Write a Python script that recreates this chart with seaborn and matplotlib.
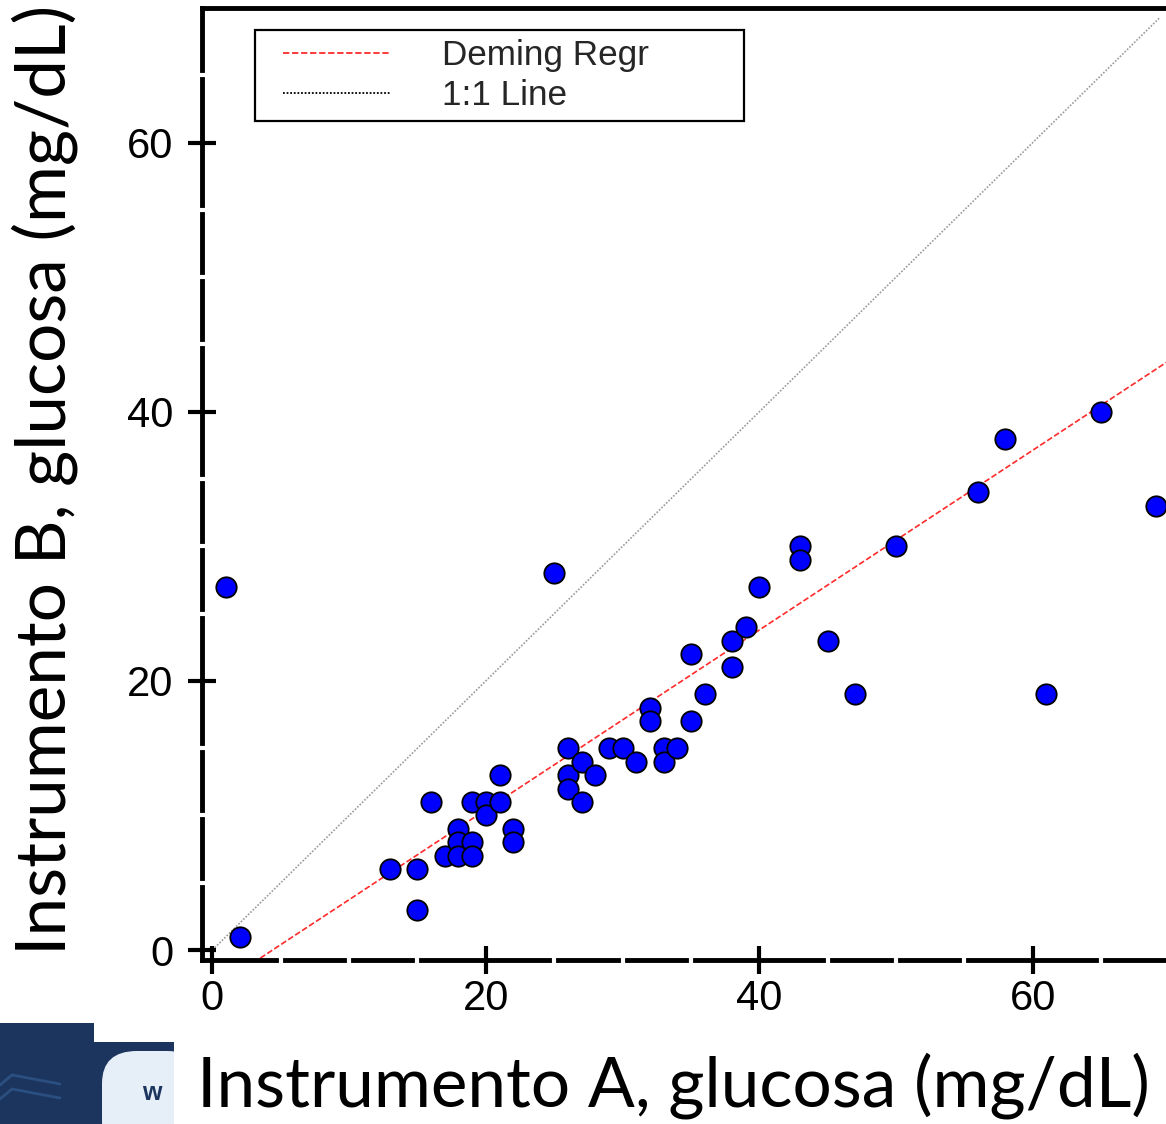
import numpy as np
import pandas as pd
import matplotlib
matplotlib.use("Agg")
import matplotlib.pyplot as plt
import seaborn as sns
from matplotlib.lines import Line2D
from matplotlib.patches import Rectangle, FancyBboxPatch
from matplotlib.legend_handler import HandlerLine2D

# ---------------- data ----------------
inst_a = [1, 2, 13, 15, 15, 16, 17, 18, 18, 18, 19, 19, 19, 20, 20, 21, 21, 22, 22,
          25, 26, 26, 26, 27, 27, 28, 29, 30, 31, 32, 32, 33, 33, 34, 35, 35, 36,
          38, 38, 39, 40, 43, 43, 45, 47, 50, 56, 58, 61, 65, 69]
inst_b = [27, 1, 6, 6, 3, 11, 7, 9, 8, 7, 11, 8, 7, 11, 10, 13, 11, 9, 8,
          28, 15, 13, 12, 14, 11, 13, 15, 15, 14, 18, 17, 15, 14, 15, 22, 17, 19,
          23, 21, 24, 27, 30, 29, 23, 19, 30, 34, 38, 19, 40, 33]
deming_slope = 0.668
deming_intercept = -2.94
deming_x = [3.0, 71.0]
identity_x = [0.0, 69.3]
x_ticks = [0, 20, 40, 60]
y_ticks = [0, 20, 40, 60]
legend_labels = ["Deming Regr", "1:1 Line"]
x_label = "Instrumento A, glucosa (mg/dL)"
y_label = "Instrumento B, glucosa (mg/dL)"

df = pd.DataFrame({"a": inst_a, "b": inst_b})

sns.set_theme(style="white")
plt.rcParams["font.family"] = ["Liberation Sans", "DejaVu Sans"]

W, H = 1166, 1124
fig = plt.figure(figsize=(W / 100, H / 100), dpi=100)
fig.patch.set_facecolor("white")

# axes: left spine x=201.7px, bottom spine y=960px, top spine y=8px, right beyond edge
left = 201.7 / W
bottom = 1 - 960 / H
top = 1 - 8 / H
right = 1169.5 / W
ax = fig.add_axes([left, bottom, right - left, top - bottom])
ax.set_facecolor("white")
ax.set_xlim(-0.78, 70)
ax.set_ylim(-0.74, 70)

# lines
dx = np.array(deming_x)
sns.lineplot(x=dx, y=deming_slope * dx + deming_intercept, ax=ax, color="#ff2a2a",
             linewidth=1.2, linestyle=(0, (3.5, 1.5)), zorder=2)
ix = np.array(identity_x)
sns.lineplot(x=ix, y=ix, ax=ax, color="#9a9a9a", linewidth=1.2,
             linestyle=(0, (1, 1)), zorder=2)

# points
sns.scatterplot(data=df, x="a", y="b", ax=ax, s=215, color="#0000ff",
                edgecolor="black", linewidth=1.3, zorder=4)

ax.set_xlabel("")
ax.set_ylabel("")

# spines
for s in ["left", "bottom", "top", "right"]:
    ax.spines[s].set_visible(True)
    ax.spines[s].set_color("black")
    ax.spines[s].set_linewidth(3.5)

ax.set_xticks(x_ticks)
ax.set_yticks(y_ticks)
minor = [v for v in range(5, 70, 5) if v not in x_ticks]
ax.set_xticks(minor, minor=True)
ax.set_yticks(minor, minor=True)
ax.tick_params(which="both", bottom=True, left=True, top=False, right=False)
ax.tick_params(which="major", direction="inout", length=20, width=3,
               color="black", labelsize=30, labelcolor="black")
ax.tick_params(axis="x", which="major", pad=3.5)
ax.tick_params(axis="y", which="major", pad=10.5)
ax.tick_params(which="minor", direction="inout", length=9, width=3, color="white")
ax.xaxis.set_zorder(3)
ax.yaxis.set_zorder(3)
for lab in ax.get_xticklabels() + ax.get_yticklabels():
    lab.set_fontfamily("Liberation Sans")
ax.grid(False)

# legend
handles = [Line2D([], [], color="#ff2a2a", lw=1.3, linestyle=(0, (3.5, 1.5))),
           Line2D([], [], color="black", lw=1.3, linestyle=(0, (1, 1)))]
leg_l, leg_r, leg_t, leg_b = 255.4, 743.7, 30, 121
leg = ax.legend(handles, legend_labels,
                bbox_to_anchor=(leg_l / W, 1 - leg_b / H, (leg_r - leg_l) / W, (leg_b - leg_t) / H),
                bbox_transform=fig.transFigure, loc="lower left", mode="expand",
                borderaxespad=0, handlelength=3.6, handletextpad=1.44,
                borderpad=0.26, labelspacing=0.2, frameon=True, fancybox=False,
                framealpha=1, edgecolor="black",
                prop={"family": "Liberation Sans", "size": 25.3},
                handler_map={Line2D: HandlerLine2D(xpad=0.52)})
leg.get_frame().set_linewidth(1.6)
leg.set_zorder(6)

# axis labels (Calibri-like), fitted to measured widths
lab_font = ["Lato", "DejaVu Sans"]
tx = fig.text((197 + 1150) / 2 / W, 1 - 1086 / H, x_label, ha="center", va="center",
              fontsize=40, family=lab_font, color="black", zorder=5)
ty = fig.text(45 / W, 1 - 480 / H, y_label, ha="center", va="center", rotation=90,
              fontsize=40, family=lab_font, color="black", zorder=5)
fig.canvas.draw()
r = fig.canvas.get_renderer()
bx = tx.get_window_extent(r)
tx.set_fontsize(40 * 953 / bx.width)
by = ty.get_window_extent(r)
ty.set_fontsize(40 * 950 / by.height)

# watermark fragment in the lower-left corner
navy = "#1c355e"
fig.patches.append(Rectangle((0, 0), 94 / W, (H - 1023) / H, transform=fig.transFigure,
                             facecolor=navy, edgecolor="none", zorder=0))
fig.patches.append(Rectangle((94 / W, 0), 80 / W, (H - 1042) / H, transform=fig.transFigure,
                             facecolor=navy, edgecolor="none", zorder=0))
fig.patches.append(FancyBboxPatch((102 / W, -30 / H), 100 / W, (H - 1051 + 30) / H,
                                  boxstyle="round,pad=0,rounding_size=0.03",
                                  transform=fig.transFigure, facecolor="#e6eef8",
                                  edgecolor="none", zorder=1, mutation_aspect=H / W))
fig.patches.append(Rectangle((174 / W, 0), 40 / W, (H - 1040) / H, transform=fig.transFigure,
                             facecolor="white", edgecolor="none", zorder=1.5))
for off in [0, 14]:
    fig.lines.append(Line2D([0, 12 / W, 60 / W], [(H - 1085 - off) / H, (H - 1075 - off) / H, (H - 1124 - off + 40) / H],
                            transform=fig.transFigure, color="#2a4f80", lw=2, zorder=0.5))
fig.text(152 / W, 1 - 1093 / H, "w", ha="center", va="center", fontsize=18,
         fontweight="bold", color=navy, family=["Liberation Sans"])

fig.savefig("out.png", dpi=100)
